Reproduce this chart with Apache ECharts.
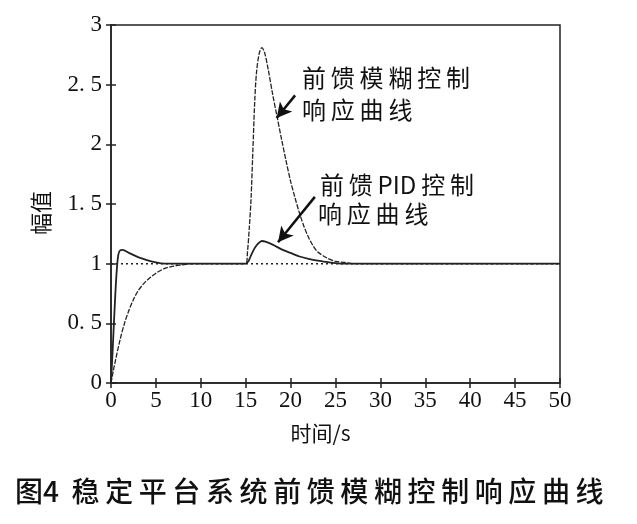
<!DOCTYPE html>
<html><head><meta charset="utf-8">
<script src="https://cdn.jsdelivr.net/npm/echarts@6/dist/echarts.min.js"></script>
<style>html,body{margin:0;padding:0;background:#fff}#c{width:637px;height:524px}</style>
</head><body><div id="c"></div>
<script>
// Time (s) and amplitude for the curve with the large disturbance peak (slow rise)
const tFuzzy = [0,0.25,0.5,1,1.5,2,2.5,3,3.5,4,5,6,7,8,9,10,12,15,15.2,15.4,15.6,15.8,16,16.2,16.5,16.8,17.1,17.5,18,18.5,19,19.5,20,20.5,21,21.5,22,22.5,23,24,25,26,27,30,40,50];
const vFuzzy = [0,0.1,0.19,0.36,0.5,0.61,0.7,0.77,0.82,0.86,0.92,0.96,0.98,0.99,1,1,1,1,1.1,1.3,1.55,1.95,2.35,2.6,2.76,2.81,2.77,2.63,2.42,2.23,2.04,1.86,1.69,1.55,1.42,1.31,1.22,1.15,1.1,1.05,1.02,1.01,1,1,1,1];
// Curve with small overshoot and small disturbance peak
const tPid = [0,0.2,0.4,0.6,0.8,1,1.3,2,3,4,5,6,7,10,15,15.3,15.6,16,16.4,16.8,17.2,18,19,20,21,22,23,24,25,26,30,40,50];
const vPid = [0,0.3,0.62,0.9,1.07,1.11,1.115,1.09,1.055,1.03,1.01,1.0,1,1,1,1.02,1.07,1.13,1.17,1.19,1.185,1.16,1.12,1.09,1.06,1.04,1.025,1.015,1.005,1,1,1,1];
// Reference level
const tRef = [0,50];
const vRef = [1,1];

const zip = (a,b)=>a.map((x,i)=>[x,b[i]]);
const serif = '"Liberation Serif","DejaVu Serif",serif';
const cjk = '"Noto Sans CJK SC",sans-serif';
const sp = s => s.split('').join('\u2009');

const chart = echarts.init(document.getElementById('c'));
chart.setOption({
  backgroundColor:'#fff',
  animation:false,
  grid:{left:111,right:77,top:25,bottom:141,containLabel:false,outerBoundsMode:'none',
    show:true,borderColor:'#222',borderWidth:1.5},
  xAxis:[{type:'value',min:0,max:50,interval:5,
    axisLine:{lineStyle:{color:'#222',width:1.5}},
    axisTick:{inside:true,length:5,lineStyle:{color:'#222',width:1.5}},
    splitLine:{show:false},
    axisLabel:{color:'#111',fontFamily:serif,fontSize:23,margin:6},
    name:'时间/s',nameLocation:'middle',nameGap:40,
    nameTextStyle:{color:'#111',fontFamily:cjk,fontSize:21,padding:[0,30,0,0]}},
   {type:'value',position:'top',min:0,max:50,interval:5,
    axisLine:{show:false},axisTick:{inside:true,length:5,lineStyle:{color:'#222',width:1.5}},
    axisLabel:{show:false},splitLine:{show:false}}],
  yAxis:[{type:'value',min:0,max:3,interval:0.5,
    axisLine:{show:true,lineStyle:{color:'#222',width:1.5}},
    axisTick:{show:true,inside:true,length:5,lineStyle:{color:'#222',width:1.5}},
    splitLine:{show:false},
    axisLabel:{color:'#111',fontFamily:serif,fontSize:23,margin:9,
      formatter:v=>String(v).replace('.','. ')}},
   {type:'value',position:'right',min:0,max:3,interval:0.5,
    axisLine:{show:false},axisTick:{show:true,inside:true,length:5,lineStyle:{color:'#222',width:1.5}},
    axisLabel:{show:false},splitLine:{show:false}}],
  series:[
    {type:'line',data:zip(tRef,vRef),symbol:'none',
      lineStyle:{color:'#222',width:1.5,type:[2,3]}},
    {type:'line',data:zip(tFuzzy,vFuzzy),symbol:'none',smooth:0.3,
      lineStyle:{color:'#222',width:1.3,type:[5,1.5]},
      markLine:{silent:true,symbol:['none','arrow'],symbolSize:[12,15],label:{show:false},
        lineStyle:{color:'#111',width:2.5,type:'solid'},
        data:[[{coord:[20.5,2.41]},{coord:[18.45,2.22]}],
              [{coord:[22.7,1.56]},{coord:[18.6,1.18]}]]}},
    {type:'line',data:zip(tPid,vPid),symbol:'none',smooth:0.3,
      lineStyle:{color:'#222',width:1.8}}
  ],
  graphic:[
    {type:'text',x:41,y:213,rotation:Math.PI/2,style:{text:'幅值',font:'22px '+cjk,fill:'#111',align:'center',verticalAlign:'middle'}},
    {type:'text',left:302,top:66,style:{text:sp('前馈模糊控制'),font:'24px '+cjk,fill:'#111'}},
    {type:'text',left:302,top:98,style:{text:sp('响应曲线'),font:'24px '+cjk,fill:'#111'}},
    {type:'text',left:320,top:173,style:{text:sp('前馈')+'\u2009PID\u2009'+sp('控制'),font:'24px '+cjk,fill:'#111'}},
    {type:'text',left:318,top:202,style:{text:sp('响应曲线'),font:'24px '+cjk,fill:'#111'}},
    {type:'text',left:15,top:477,style:{text:'图4  '+sp('稳定平台系统前馈模糊控制响应曲线'),font:'500 28px '+cjk,fill:'#111'}}
  ]
});
</script></body></html>
